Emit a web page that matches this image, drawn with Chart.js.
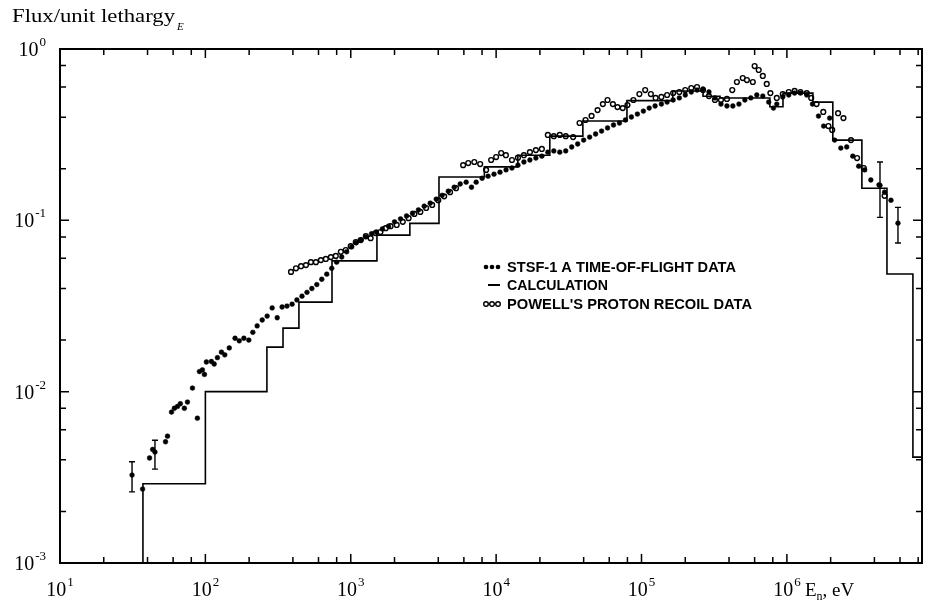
<!DOCTYPE html>
<html>
<head>
<meta charset="utf-8">
<script src="https://cdn.jsdelivr.net/npm/chart.js@4.4.1/dist/chart.umd.min.js"></script>
<style>
  html, body { margin: 0; padding: 0; background: #fff; }
  canvas { display: block; }
</style>
</head>
<body>
<canvas id="chart" width="932" height="603"></canvas>
<script>
// Neutron energy (eV) and flux per unit lethargy for each series.

// STSF-1 A time-of-flight measurement (filled points)
const tofEnergy = [37.0, 41.3, 43.4, 53.2, 54.9, 58.5, 61.2, 64.3, 67.3, 71.7, 75.3, 81.5, 88.1, 91, 95.4, 98.5,
  101.6, 110, 115, 121, 129, 136, 146, 160, 171, 184, 199, 212, 227, 246, 266, 288, 312, 337, 364, 395,
  426, 462, 500, 540, 584, 632, 684, 740, 800, 867, 937, 1016, 1090, 1180, 1270, 1390, 1500, 1650, 1820,
  2000, 2200, 2420, 2660, 2920, 3200, 3520, 3870, 4250, 4690, 5150, 5660, 6220, 6770, 7290, 8010, 8800,
  9670, 10630, 11700, 12850, 14130, 15530, 17070, 18770, 20630, 22680, 24930, 27400, 30120, 33110, 36390,
  40000, 43970, 48330, 53130, 58390, 64180, 70550, 77540, 85230, 93690, 1.03e5, 1.13e5, 1.24e5, 1.37e5,
  1.50e5, 1.65e5, 1.82e5, 2.00e5, 2.20e5, 2.41e5, 2.65e5, 2.91e5, 3.20e5, 3.52e5, 3.87e5, 4.25e5, 4.68e5,
  5.14e5, 5.65e5, 6.21e5, 6.83e5, 7.50e5, 8.08e5, 8.52e5, 9.37e5, 1.03e6, 1.13e6, 1.24e6, 1.37e6, 1.50e6,
  1.65e6, 1.79e6, 1.97e6, 2.13e6, 2.35e6, 2.58e6, 2.84e6, 3.12e6, 3.43e6, 3.78e6, 4.30e6, 4.70e6, 5.20e6];
const tofFlux = [0.0027, 0.0041, 0.0046, 0.0051, 0.0055, 0.0076, 0.0080, 0.0082, 0.0085, 0.0080, 0.0087, 0.0105,
  0.0070, 0.0131, 0.0134, 0.0126, 0.0149, 0.0150, 0.0145, 0.0158, 0.0170, 0.0164, 0.0180, 0.0205, 0.0198,
  0.0205, 0.0200, 0.0222, 0.0242, 0.0262, 0.0276, 0.0308, 0.0270, 0.0312, 0.0316, 0.0324, 0.0343, 0.0361,
  0.0380, 0.0400, 0.0422, 0.0453, 0.0485, 0.0525, 0.0570, 0.0611, 0.0655, 0.0700, 0.0740, 0.0767, 0.0800,
  0.0835, 0.0855, 0.0890, 0.0925, 0.098, 0.102, 0.106, 0.110, 0.115, 0.121, 0.126, 0.133, 0.140, 0.148,
  0.156, 0.163, 0.167, 0.156, 0.167, 0.176, 0.181, 0.186, 0.191, 0.197, 0.202, 0.210, 0.219, 0.225, 0.231,
  0.237, 0.250, 0.254, 0.250, 0.254, 0.268, 0.279, 0.294, 0.306, 0.319, 0.332, 0.346, 0.360, 0.370, 0.385,
  0.401, 0.417, 0.434, 0.452, 0.465, 0.477, 0.490, 0.504, 0.518, 0.539, 0.561, 0.576, 0.584, 0.561, 0.518,
  0.477, 0.465, 0.465, 0.477, 0.504, 0.518, 0.539, 0.531, 0.490, 0.452, 0.477, 0.525, 0.539, 0.553, 0.553,
  0.539, 0.477, 0.406, 0.355, 0.395, 0.294, 0.264, 0.268, 0.237, 0.207, 0.197, 0.172, 0.161, 0.146, 0.131];

// Powell's proton recoil measurement (open points)
const powellEnergy = [388, 420, 455, 492, 532, 576, 623, 674, 730, 789, 855, 924, 1000, 1083, 1170, 1270, 1370,
  1480, 1600, 1740, 1880, 2070, 2280, 2500, 2740, 3010, 3300, 3630, 4000, 4390, 4820, 5300, 5930, 6430, 7080,
  7770, 8530, 9240, 10000, 10830, 11670, 12850, 14130, 15530, 17070, 18770, 20630, 22680, 24930, 27400, 30120,
  33850, 37490, 41220, 45340, 49870, 54230, 58390, 63560, 68360, 74260, 80030, 87950, 96680, 1.06e5, 1.16e5,
  1.25e5, 1.37e5, 1.50e5, 1.65e5, 1.82e5, 2.00e5, 2.20e5, 2.41e5, 2.65e5, 2.91e5, 3.20e5, 3.52e5, 3.87e5,
  4.21e5, 4.53e5, 4.97e5, 5.31e5, 5.83e5, 6.00e5, 6.40e5, 6.83e5, 7.27e5, 7.70e5, 8.52e5, 9.37e5, 1.03e6,
  1.13e6, 1.24e6, 1.37e6, 1.47e6, 1.60e6, 1.78e6, 1.93e6, 2.05e6, 2.25e6, 2.45e6, 2.76e6, 3.04e6, 3.38e6,
  4.70e6];
const powellFlux = [0.0500, 0.0525, 0.0540, 0.0548, 0.0570, 0.0570, 0.0586, 0.0595, 0.0610, 0.0620, 0.0655,
  0.0671, 0.0707, 0.0747, 0.0767, 0.0810, 0.0787, 0.0843, 0.0855, 0.0900, 0.0925, 0.094, 0.098, 0.103, 0.109,
  0.112, 0.118, 0.123, 0.131, 0.138, 0.146, 0.154, 0.210, 0.216, 0.219, 0.213, 0.197, 0.225, 0.234, 0.247,
  0.240, 0.225, 0.232, 0.240, 0.250, 0.257, 0.261, 0.315, 0.310, 0.315, 0.310, 0.306, 0.370, 0.385, 0.407,
  0.440, 0.477, 0.504, 0.477, 0.458, 0.452, 0.471, 0.504, 0.546, 0.576, 0.546, 0.518, 0.525, 0.539, 0.553,
  0.561, 0.576, 0.592, 0.600, 0.576, 0.531, 0.504, 0.504, 0.511, 0.576, 0.642, 0.677, 0.659, 0.642, 0.795,
  0.754, 0.696, 0.625, 0.553, 0.518, 0.546, 0.561, 0.569, 0.561, 0.553, 0.518, 0.477, 0.429, 0.355, 0.337,
  0.422, 0.395, 0.294, 0.231, 0.202, 0.139];

// Points carrying error bars
const errEnergy = [31.3, 45.0, 4.37e6, 5.81e6];
const errFlux = [0.00326, 0.00444, 0.160, 0.0963];
const errLow = [0.0026, 0.00353, 0.104, 0.0737];
const errHigh = [0.0039, 0.0052, 0.219, 0.119];

// Calculated group fluxes: group lower edges and flux in each group
const calcEdges = [37.2, 100, 265, 342, 440, 743, 1514, 2550, 4045, 8300, 14100, 23400, 39500, 62700, 79400,
  164000, 265000, 347000, 764000, 940000, 1.51e6, 2.07e6, 3.28e6, 4.88e6, 7.36e6];
const calcFlux = [0.0029, 0.010, 0.0182, 0.0235, 0.0333, 0.058, 0.082, 0.096, 0.179, 0.205, 0.24, 0.31, 0.38,
  0.38, 0.50, 0.569, 0.53, 0.518, 0.46, 0.553, 0.49, 0.294, 0.154, 0.0486, 0.00415];

// Axis range and labelled decades
const xRange = [10, 8.5e6];
const yRange = [1e-3, 1];
const xTickExponents = ['1', '2', '3', '4', '5', '6'];
const yTickExponents = ['0', '-1', '-2', '-3'];
const minorMultipliers = [2, 4, 6, 8];

const yTitle = 'Flux/unit lethargy';
const yTitleSub = 'E';
const xTitle = ['E', 'n', ', eV'];
const legendItems = [
  { text: 'STSF-1 A TIME-OF-FLIGHT DATA', kind: 'filled' },
  { text: 'CALCULATION', kind: 'line' },
  { text: "POWELL'S PROTON RECOIL DATA", kind: 'open' }
];

function pairs(xs, ys) { return xs.map((x, i) => ({ x, y: ys[i] })); }

// Histogram outline: each group value holds from its lower edge to the next edge
function stepPoints() {
  const pts = [{ x: calcEdges[0], y: yRange[0] }];
  calcEdges.forEach((e, i) => {
    pts.push({ x: e, y: calcFlux[i] });
    const next = i + 1 < calcEdges.length ? calcEdges[i + 1] : xRange[1];
    pts.push({ x: next, y: calcFlux[i] });
  });
  return pts;
}

const SERIF = '"Liberation Serif", "Times New Roman", serif';
const SANS = '"Liberation Sans", Arial, sans-serif';

function fitText(ctx, text, x, y, width) {
  const w = ctx.measureText(text).width;
  ctx.save();
  ctx.translate(x, y);
  ctx.scale(width / w, 1);
  ctx.fillText(text, 0, 0);
  ctx.restore();
}

const framePlugin = {
  id: 'frame',
  afterDatasetsDraw(chart) {
    const { ctx, chartArea: a, scales: { x, y } } = chart;
    ctx.save();
    ctx.strokeStyle = '#000';
    ctx.fillStyle = '#000';

    // error bars
    ctx.lineWidth = 1.4;
    errEnergy.forEach((e, i) => {
      const px = x.getPixelForValue(e);
      const y1 = y.getPixelForValue(errLow[i]);
      const y2 = y.getPixelForValue(errHigh[i]);
      ctx.beginPath();
      ctx.moveTo(px, y1); ctx.lineTo(px, y2);
      ctx.moveTo(px - 3, y1); ctx.lineTo(px + 3, y1);
      ctx.moveTo(px - 3, y2); ctx.lineTo(px + 3, y2);
      ctx.stroke();
    });

    // frame
    ctx.lineWidth = 2;
    ctx.strokeRect(a.left, a.top, a.right - a.left, a.bottom - a.top);

    // inward ticks
    ctx.lineWidth = 1.5;
    ctx.beginPath();
    for (let k = 1; k <= 7; k++) {
      [1].concat(minorMultipliers).forEach(m => {
        const v = m * Math.pow(10, k);
        if (v <= xRange[0] || v >= xRange[1]) return;
        const px = x.getPixelForValue(v);
        const len = m === 1 ? 9 : 6;
        ctx.moveTo(px, a.bottom); ctx.lineTo(px, a.bottom - len);
        ctx.moveTo(px, a.top); ctx.lineTo(px, a.top + len);
      });
    }
    for (let k = -3; k <= 0; k++) {
      [1].concat(minorMultipliers).forEach(m => {
        const v = m * Math.pow(10, k);
        if (v <= yRange[0] || v >= yRange[1]) return;
        const py = y.getPixelForValue(v);
        const len = m === 1 ? 9 : 6;
        ctx.moveTo(a.left, py); ctx.lineTo(a.left + len, py);
        ctx.moveTo(a.right, py); ctx.lineTo(a.right - len, py);
      });
    }
    ctx.stroke();

    // decade labels
    ctx.textBaseline = 'alphabetic';
    const big = '20px ' + SERIF, small = '13px ' + SERIF;
    xTickExponents.forEach(ex => {
      const px = x.getPixelForValue(Math.pow(10, Number(ex)));
      ctx.font = big; const wb = ctx.measureText('10').width;
      ctx.font = small; const ws = ctx.measureText(ex).width;
      const left = px - (wb + ws + 1) / 2;
      ctx.font = big; ctx.fillText('10', left, 596);
      ctx.font = small; ctx.fillText(ex, left + wb + 1, 586);
    });
    yTickExponents.forEach(ex => {
      const py = y.getPixelForValue(Math.pow(10, Number(ex)));
      ctx.font = small; const ws = ctx.measureText(ex).width;
      ctx.font = big; const wb = ctx.measureText('10').width;
      const right = a.left - 14;
      ctx.fillText('10', right - ws - wb - 1, py + 7);
      ctx.font = small; ctx.fillText(ex, right - ws, py - 3);
    });

    // axis titles
    ctx.font = '18px ' + SERIF;
    fitText(ctx, yTitle, 12, 22, 163);
    ctx.font = 'italic 11px ' + SERIF;
    ctx.fillText(yTitleSub, 177, 30);

    ctx.font = '19px ' + SERIF;
    let tx = 805;
    ctx.fillText(xTitle[0], tx, 596); tx += ctx.measureText(xTitle[0]).width;
    ctx.font = '12px ' + SERIF;
    ctx.fillText(xTitle[1], tx, 600); tx += ctx.measureText(xTitle[1]).width;
    ctx.font = '19px ' + SERIF;
    ctx.fillText(xTitle[2], tx, 596);

    // legend
    const widths = [229, 101, 245];
    const baselines = [272, 290, 309];
    legendItems.forEach((item, i) => {
      const by = baselines[i];
      const cy = by - 5;
      ctx.font = 'bold 14px ' + SANS;
      fitText(ctx, item.text, 507, by, widths[i]);
      if (item.kind === 'line') {
        ctx.lineWidth = 2;
        ctx.beginPath(); ctx.moveTo(488, cy); ctx.lineTo(500, cy); ctx.stroke();
      } else {
        for (let d = 0; d < 3; d++) {
          ctx.beginPath();
          ctx.arc(486 + d * 6, cy, 2.3, 0, Math.PI * 2);
          if (item.kind === 'filled') { ctx.fill(); }
          else { ctx.fillStyle = '#fff'; ctx.fill(); ctx.lineWidth = 1.4; ctx.stroke(); ctx.fillStyle = '#000'; }
        }
      }
    });
    ctx.restore();
  }
};

new Chart(document.getElementById('chart'), {
  type: 'scatter',
  data: {
    datasets: [
      {
        label: 'CALCULATION',
        type: 'line',
        data: stepPoints(),
        borderColor: '#000',
        borderWidth: 1.6,
        pointRadius: 0,
        tension: 0,
        fill: false
      },
      {
        label: 'STSF-1 A TIME-OF-FLIGHT DATA',
        data: pairs(tofEnergy, tofFlux).concat(pairs(errEnergy, errFlux)),
        pointStyle: 'circle',
        pointRadius: 2.4,
        backgroundColor: '#000',
        borderColor: '#000',
        borderWidth: 0.5
      },
      {
        label: "POWELL'S PROTON RECOIL DATA",
        data: pairs(powellEnergy, powellFlux),
        pointStyle: 'circle',
        pointRadius: 2.4,
        backgroundColor: '#fff',
        borderColor: '#000',
        borderWidth: 1.4
      }
    ]
  },
  options: {
    responsive: false,
    devicePixelRatio: 1,
    animation: false,
    layout: { padding: { left: 60, top: 49, right: 10, bottom: 40 } },
    plugins: { legend: { display: false }, tooltip: { enabled: false } },
    scales: {
      x: { type: 'logarithmic', min: xRange[0], max: xRange[1], display: false },
      y: { type: 'logarithmic', min: yRange[0], max: yRange[1], display: false }
    }
  },
  plugins: [framePlugin]
});
</script>
</body>
</html>
